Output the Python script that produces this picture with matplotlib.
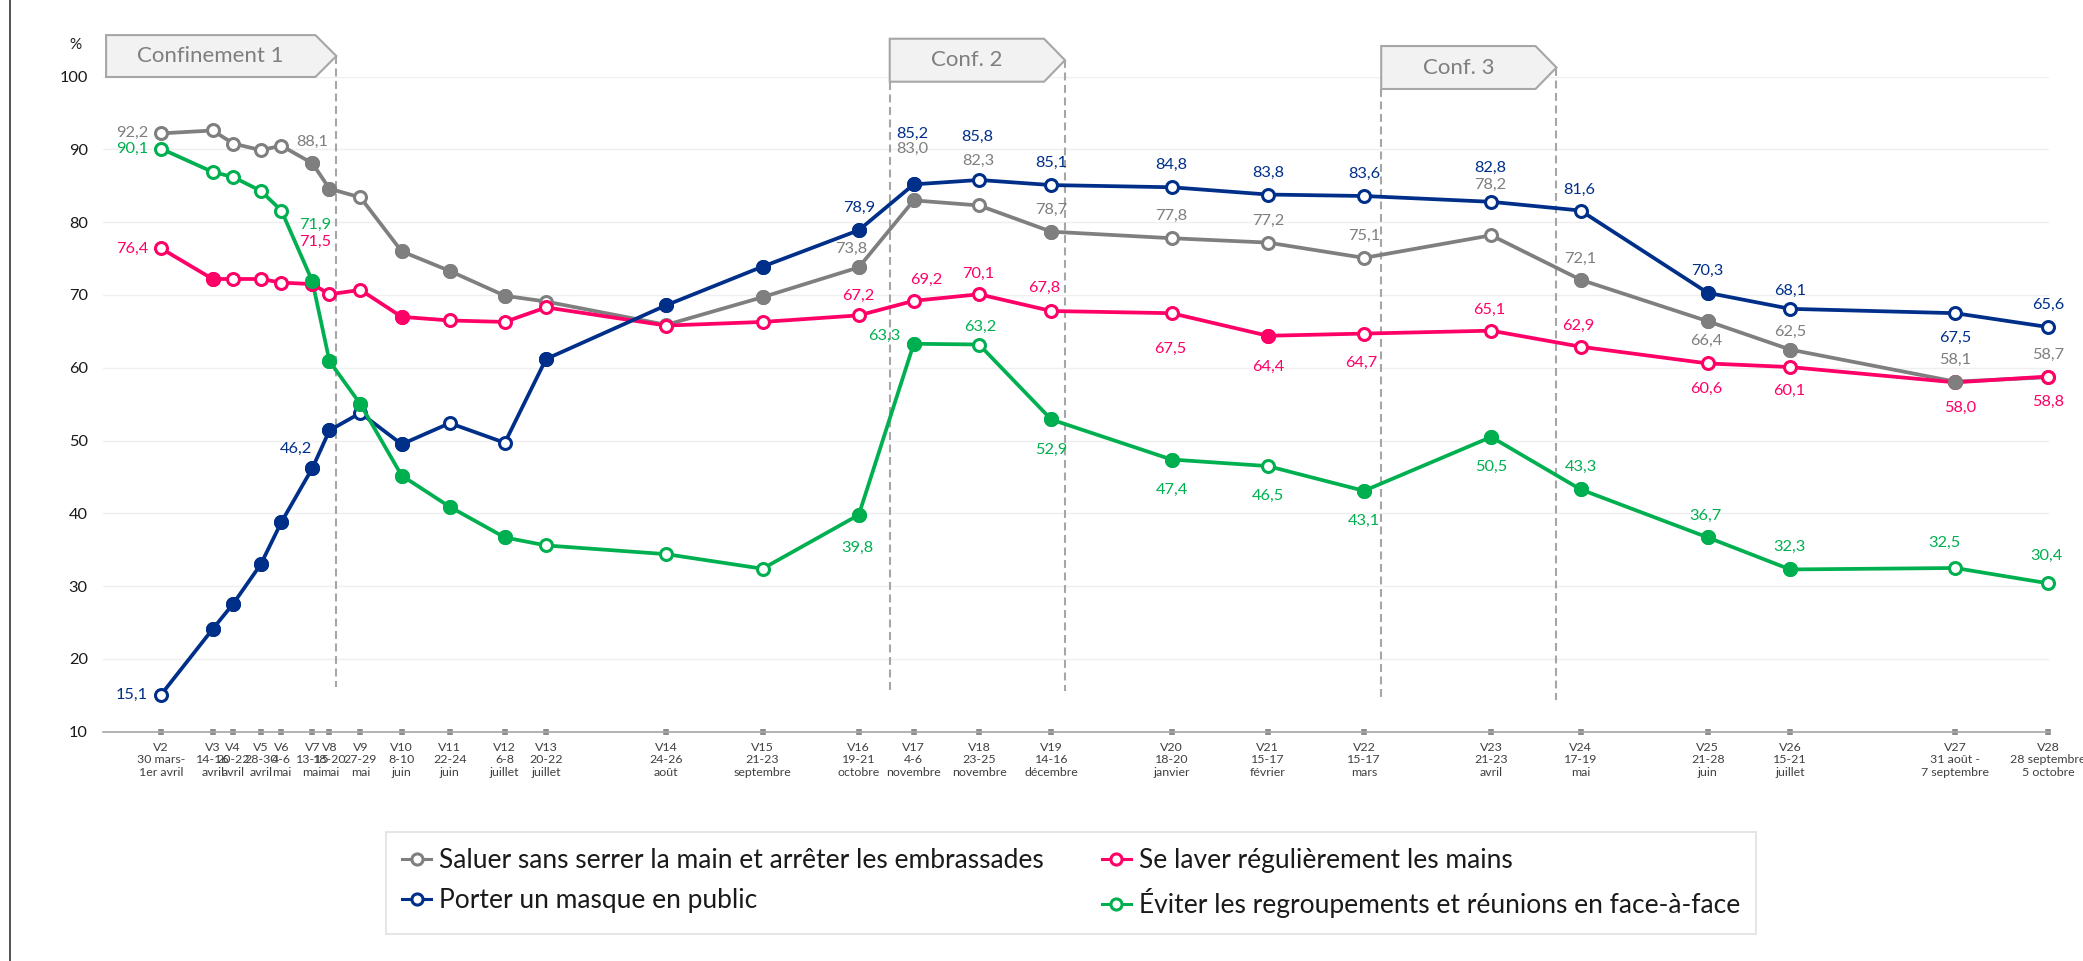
import matplotlib
matplotlib.use("Agg")
import matplotlib.pyplot as plt
import matplotlib.dates as mdates
from matplotlib.lines import Line2D
from matplotlib.patches import Polygon
import numpy as np

plt.rcParams['font.family'] = ['Lato', 'DejaVu Sans']

# ---------------- data ----------------
waves = ["V2", "V3", "V4", "V5", "V6", "V7", "V8", "V9", "V10", "V11", "V12", "V13",
         "V14", "V15", "V16", "V17", "V18", "V19", "V20", "V21", "V22", "V23", "V24",
         "V25", "V26", "V27", "V28"]
wave_periods = ["30 mars-\n1er avril", "14-16\navril", "20-22\navril", "28-30\navril",
                "4-6\nmai", "13-15\nmai", "18-20\nmai", "27-29\nmai", "8-10\njuin",
                "22-24\njuin", "6-8\njuillet", "20-22\njuillet", "24-26\naoût",
                "21-23\nseptembre", "19-21\noctobre", "4-6\nnovembre", "23-25\nnovembre",
                "14-16\ndécembre", "18-20\njanvier", "15-17\nfévrier", "15-17\nmars",
                "21-23\navril", "17-19\nmai", "21-28\njuin", "15-21\njuillet",
                "31 août -\n7 septembre", "28 septembre\n5 octobre"]
wave_dates = ["2020-03-31", "2020-04-15", "2020-04-21", "2020-04-29", "2020-05-05",
              "2020-05-14", "2020-05-19", "2020-05-28", "2020-06-09", "2020-06-23",
              "2020-07-09", "2020-07-21", "2020-08-25", "2020-09-22", "2020-10-20",
              "2020-11-05", "2020-11-24", "2020-12-15", "2021-01-19", "2021-02-16",
              "2021-03-16", "2021-04-22", "2021-05-18", "2021-06-24", "2021-07-18",
              "2021-09-04", "2021-10-01"]

saluer = [92.2, 92.6, 90.8, 89.9, 90.5, 88.1, 84.6, 83.4, 76.0, 73.3, 69.9, 69.1, 65.9,
          69.7, 73.8, 83.0, 82.3, 78.7, 77.8, 77.2, 75.1, 78.2, 72.1, 66.4, 62.5, 58.1, 58.7]
saluer_sig = [0, 0, 0, 0, 0, 1, 1, 0, 1, 1, 1, 0, 0, 1, 1, 1, 0, 1, 0, 0, 0, 0, 1, 1, 1, 1, 0]

laver = [76.4, 72.2, 72.2, 72.2, 71.7, 71.5, 70.1, 70.7, 67.0, 66.5, 66.3, 68.3, 65.8,
         66.3, 67.2, 69.2, 70.1, 67.8, 67.5, 64.4, 64.7, 65.1, 62.9, 60.6, 60.1, 58.0, 58.8]
laver_sig = [0, 1, 0, 0, 0, 1, 0, 0, 1, 0, 0, 0, 0, 0, 0, 0, 0, 0, 0, 1, 0, 0, 0, 0, 0, 0, 0]

masque = [15.1, 24.1, 27.6, 33.0, 38.8, 46.2, 51.4, 53.8, 49.5, 52.4, 49.7, 61.2, 68.6,
          73.9, 78.9, 85.2, 85.8, 85.1, 84.8, 83.8, 83.6, 82.8, 81.6, 70.3, 68.1, 67.5, 65.6]
masque_sig = [0, 1, 1, 1, 1, 1, 1, 0, 1, 0, 0, 1, 1, 1, 1, 1, 0, 0, 0, 0, 0, 0, 0, 1, 0, 0, 0]

eviter = [90.1, 86.9, 86.2, 84.3, 81.6, 71.9, 60.9, 55.0, 45.2, 40.9, 36.7, 35.6, 34.4,
          32.4, 39.8, 63.3, 63.2, 52.9, 47.4, 46.5, 43.1, 50.5, 43.3, 36.7, 32.3, 32.5, 30.4]
eviter_sig = [0, 0, 0, 0, 0, 1, 1, 1, 1, 1, 1, 0, 0, 0, 1, 1, 0, 1, 1, 0, 1, 1, 1, 1, 1, 0, 0]

series_names = ["Saluer sans serrer la main et arrêter les embrassades",
                "Se laver régulièrement les mains",
                "Porter un masque en public",
                "Éviter les regroupements et réunions en face-à-face"]

lockdowns = ["Confinement 1", "Conf. 2", "Conf. 3"]
lockdown_start = ["2020-03-15", "2020-10-29", "2021-03-21"]
lockdown_end = ["2020-05-21", "2020-12-19", "2021-05-11"]

# ---------------- styles / layout ----------------
colors = ["#7F7F7F", "#FF0066", "#002F8A", "#00B050"]

# data-label placement: index -> (dx px, dy px [, ha])
lab_saluer = {0: (-13, 0, 'right'), 5: (0, 21), 14: (-8, 18), 15: (-1, 51), 16: (-1, 45),
              17: (0, 22), 18: (0, 22), 19: (0, 22), 20: (0, 22), 21: (-1, 50), 22: (0, 21),
              23: (-1, -20), 24: (0, 18), 25: (0, 22), 26: (0, 22)}
lab_laver = {0: (-13, 0, 'right'), 5: (3, 42), 14: (-1, 19), 15: (12, 21), 16: (-1, 20),
             17: (-7, 23), 18: (-1, -36), 19: (0, -31), 20: (-3, -29), 21: (-2, 21),
             22: (-2, 21), 23: (-1, -25), 24: (-1, -24), 25: (5, -26), 26: (0, -25)}
lab_masque = {0: (-13, 0, 'right'), 5: (-16, 19), 14: (0, 22), 15: (-1, 50), 16: (-2, 43),
              17: (0, 22), 18: (0, 22), 19: (0, 22), 20: (0, 22), 21: (-1, 34), 22: (-1, 21),
              23: (0, 22), 24: (0, 18), 25: (0, -25), 26: (0, 22)}
lab_eviter = {0: (-13, 0, 'right'), 5: (3, 56), 14: (-1, -33), 15: (-13, 8, 'right'),
              16: (1, 18), 17: (0, -30), 18: (0, -30), 19: (0, -30), 20: (0, -30),
              21: (0, -30), 22: (0, 22), 23: (-2, 22), 24: (-1, 23), 25: (-11, 25),
              26: (-2, 27)}

banner_y = [(99.95, 105.7), (99.3, 105.2), (98.3, 104.2)]
dash_bottom = [16.1, 15.6, 14.4]

W, H = 2083, 961
fig = plt.figure(figsize=(W / 100, H / 100), dpi=100)
ax = fig.add_axes([103 / W, 1 - 731.8 / H, (2049 - 103) / W, (731.8 - 76.6) / H])

x = mdates.datestr2num(wave_dates)
base = x[0]
ax.set_xlim(base - 16.9, base + 549.3)
ax.set_ylim(10, 100)

# grid
ax.set_yticks(np.arange(10, 101, 10))
ax.yaxis.grid(True, color='#EFEFEF', lw=1.0)
ax.set_axisbelow(True)
for s in ['top', 'right', 'left']:
    ax.spines[s].set_visible(False)
ax.spines['bottom'].set_color('#A6A6A6')
ax.spines['bottom'].set_linewidth(1.2)

ax.tick_params(axis='y', length=0, pad=11, labelsize=11.8, labelcolor='#1A1A1A')
ax.set_xticks(x)
ax.set_xticklabels([f"{w}\n{p}" for w, p in zip(waves, wave_periods)],
                   fontsize=8.9, color='#404040', linespacing=1.2)
ax.tick_params(axis='x', direction='inout', length=4, width=4, color='#8C8C8C', pad=5)

fig.text(75 / W, 1 - 45 / H, '%', fontsize=11, color='#1A1A1A', ha='center', va='center')

# series
all_vals = [saluer, laver, masque, eviter]
all_sig = [saluer_sig, laver_sig, masque_sig, eviter_sig]
all_labs = [lab_saluer, lab_laver, lab_masque, lab_eviter]

for vals, c in zip(all_vals, colors):
    ax.plot(x, vals, '-o', color=c, lw=2.7, ms=8.6, mew=2.2, mfc='white', mec=c,
            zorder=3, clip_on=False)
for vals, sig, c in zip(all_vals, all_sig, colors):
    m = np.array(sig, dtype=bool)
    ax.plot(x[m], np.array(vals)[m], 'o', ms=8.6, mew=2.2, mfc=c, mec=c, zorder=4,
            clip_on=False)

for vals, labs, c in zip(all_vals, all_labs, colors):
    for i, spec in labs.items():
        dx, dy = spec[0], spec[1]
        ha = spec[2] if len(spec) > 2 else 'center'
        ax.annotate(f"{vals[i]:.1f}".replace('.', ','), (x[i], vals[i]),
                    xytext=(dx, dy), textcoords='offset pixels', ha=ha, va='center',
                    fontsize=11.8, color=c, zorder=5, annotation_clip=False)

# lockdown banners
tip = 6.1
for k, (name, s, e) in enumerate(zip(lockdowns, lockdown_start, lockdown_end)):
    xs, xe = mdates.datestr2num(s), mdates.datestr2num(e)
    yb, yt = banner_y[k]
    ym = (yb + yt) / 2
    poly = Polygon([(xs, yb), (xs, yt), (xe - tip, yt), (xe, ym), (xe - tip, yb)],
                   closed=True, facecolor='#F2F2F2', edgecolor='#A6A6A6', lw=1.5,
                   clip_on=False, zorder=6)
    ax.add_patch(poly)
    ax.text((xs + xe - tip) / 2, ym, name, ha='center', va='center', fontsize=16,
            color='#7F7F7F', zorder=7, clip_on=False)
    ax.plot([xe, xe], [ym, dash_bottom[k]], color='#A6A6A6', lw=1.5,
            ls=(0, (3.8, 2.2)), zorder=2, clip_on=False)
    if k > 0:
        ax.plot([xs, xs], [yb, dash_bottom[k]], color='#A6A6A6', lw=1.5,
                ls=(0, (3.8, 2.2)), zorder=2, clip_on=False)

# legend
handles = [Line2D([], [], color=c, lw=2.2, marker='o', ms=8, mew=2.2, mfc='white', mec=c)
           for c in colors]
order = [0, 2, 1, 3]
leg = fig.legend([handles[i] for i in order], [series_names[i] for i in order],
                 ncol=2, loc='center', bbox_to_anchor=(1071 / W, 1 - 883 / H),
                 fontsize=19, frameon=True, fancybox=False, edgecolor='#D9D9D9',
                 handlelength=1.1, handletextpad=0.3, columnspacing=2.2,
                 labelspacing=0.55, borderpad=0.6)
leg.get_frame().set_linewidth(1.2)
for t in leg.get_texts():
    t.set_color('#1A1A1A')

# left border line
fig.add_artist(Line2D([10 / W, 10 / W], [0, 1], transform=fig.transFigure,
                      color='#333333', lw=1.2))

fig.savefig('out.png', dpi=100)
